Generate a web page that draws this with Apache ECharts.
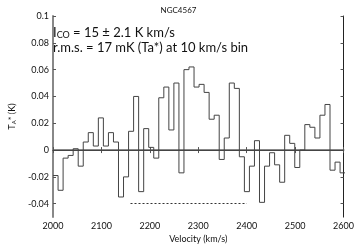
<!DOCTYPE html>
<html><head><meta charset="utf-8">
<script src="https://cdn.jsdelivr.net/npm/echarts@6/dist/echarts.min.js"></script>
<style>html,body{margin:0;padding:0;background:#fff}#c{width:357px;height:249px}</style>
</head><body><div id="c"></div>
<script>
const chartTitle = 'NGC4567';
const vStart = 2000;   // first channel edge (km/s)
const vWidth = 10.4;   // channel width (km/s)
const ta = [
  -0.019, -0.030, -0.006, -0.004, 0.001, -0.012, 0.006, 0.013, 0.003, 0.024,
   0.003,  0.013,  0.006, -0.035, -0.020, 0.014, 0.040, -0.031, 0.016, 0.002,
  -0.006,  0.039,  0.047,  0.015,  0.050, -0.017, 0.060, 0.062, 0.047, 0.049,
   0.043,  0.023,  0.026, -0.007,  0.009,  0.050, 0.046, -0.005, -0.031, -0.012,
   0.007, -0.039, -0.012, -0.002, -0.011, -0.024, 0.011, 0.005, -0.013, 0.000,
   0.019,  0.017,  0.009,  0.026,  0.034, -0.015, -0.009, -0.017
];
const xRange = [2000, 2600];
const yRange = [-0.05, 0.1];
const xTicks = [2000, 2100, 2200, 2300, 2400, 2500, 2600];
const yTicks = [-0.04, -0.02, 0, 0.02, 0.04, 0.06, 0.08, 0.1];
const lineRange = [2160, 2400];
const lineLevel = -0.04;
const annot1 = ['I', 'CO', ' = 15 \u00b1 2.1 K km/s'];
const annot2 = 'r.m.s. = 17 mK (Ta*) at 10 km/s bin';
const xName = 'Velocity (km/s)';

const pts = ta.map((v, i) => [vStart + i * vWidth, v]);
pts.push([vStart + ta.length * vWidth, ta[ta.length - 1]]);

const FONT = 'Lato';
const axisBase = (extra) => Object.assign({
  axisTick: { inside: true, length: 3, lineStyle: { color: '#555', width: 1 } },
  splitLine: { show: false }
}, extra);

const chart = echarts.init(document.getElementById('c'), null, { renderer: 'canvas' });
chart.setOption({
  animation: false,
  backgroundColor: '#fff',
  title: {
    text: chartTitle, left: 'center', top: 1,
    textStyle: { fontFamily: FONT, fontSize: 8, fontWeight: 'normal', color: '#111' }
  },
  grid: { left: 39, right: 11, top: 16, bottom: 23 },
  xAxis: [
    axisBase({
      type: 'value', min: xRange[0], max: xRange[1], position: 'bottom',
      axisLine: { lineStyle: { color: '#888', width: 2 } },
      axisTick: { inside: true, length: 3, customValues: xTicks, lineStyle: { color: '#555' } },
      axisLabel: { customValues: xTicks, fontFamily: FONT, fontSize: 9, color: '#111', margin: 4,
        formatter: v => String(Math.round(v)) },
      name: xName, nameLocation: 'middle', nameGap: 11,
      nameTextStyle: { fontFamily: FONT, fontSize: 9, color: '#111' }
    }),
    axisBase({
      type: 'value', min: xRange[0], max: xRange[1], position: 'top',
      axisLine: { lineStyle: { color: '#222', width: 1 } },
      axisTick: { inside: true, length: 3, customValues: xTicks, lineStyle: { color: '#555' } },
      axisLabel: { show: false }
    })
  ],
  yAxis: [
    axisBase({
      type: 'value', min: yRange[0], max: yRange[1], position: 'left',
      axisLine: { show: true, lineStyle: { color: '#888', width: 2 } },
      axisTick: { show: true, inside: true, length: 3, customValues: yTicks, lineStyle: { color: '#555' } },
      axisLabel: {
        customValues: yTicks, fontFamily: FONT, fontSize: 9, color: '#111', margin: 4,
        formatter: v => String(+(+v).toFixed(2))
      },
      name: '{t|T}{s|A}{t|* (K)}', nameLocation: 'middle', nameRotate: 90, nameGap: 27,
      nameTextStyle: {
        rich: {
          t: { fontFamily: FONT, fontSize: 9, color: '#111' },
          s: { fontFamily: FONT, fontSize: 6, color: '#111', verticalAlign: 'bottom' }
        }
      }
    }),
    axisBase({
      type: 'value', min: yRange[0], max: yRange[1], position: 'right',
      axisLine: { show: true, lineStyle: { color: '#222', width: 1 } },
      axisTick: { show: true, inside: true, length: 3, customValues: yTicks, lineStyle: { color: '#555' } },
      axisLabel: { show: false }
    })
  ],
  graphic: [
    {
      type: 'text', left: 53, top: 26, silent: true,
      style: {
        text: '{a|' + annot1[0] + '}{b|' + annot1[1] + '}{a|' + annot1[2] + '}',
        rich: {
          a: { fontFamily: FONT, fontSize: 13, fill: '#111', lineHeight: 14 },
          b: { fontFamily: FONT, fontSize: 9, fill: '#111', lineHeight: 14, verticalAlign: 'bottom' }
        }
      }
    },
    {
      type: 'text', left: 53, top: 41, silent: true,
      style: { text: annot2, fontFamily: FONT, fontSize: 13, fill: '#111' }
    }
  ],
  series: [{
    type: 'line', xAxisIndex: 0, yAxisIndex: 0,
    data: pts, step: 'end', showSymbol: false, symbol: 'none',
    lineStyle: { color: '#444', width: 1 },
    clip: true, silent: true,
    markLine: {
      silent: true, symbol: 'none', animation: false,
      label: { show: false },
      data: [
        [{ coord: [xRange[0], 0], lineStyle: { color: '#444', width: 1, type: 'solid' } },
         { coord: [xRange[1], 0] }],
        [{ coord: [lineRange[0], lineLevel], lineStyle: { color: '#333', width: 1, type: [2, 2] } },
         { coord: [lineRange[1], lineLevel] }]
      ]
    }
  }]
});
</script></body></html>
